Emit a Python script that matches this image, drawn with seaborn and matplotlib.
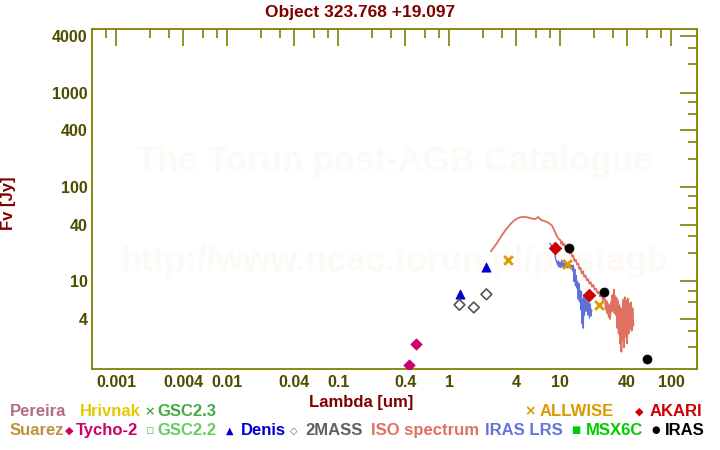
import numpy as np
import pandas as pd
import matplotlib
matplotlib.use("Agg")
import matplotlib.pyplot as plt
from matplotlib.ticker import FixedLocator, FixedFormatter, NullFormatter
import seaborn as sns

# ---------------- data ----------------
tycho_wl = [0.435, 0.505]
tycho_fl = [1.31, 2.19]

denis_wl = [1.25, 2.15]
denis_fl = [7.4, 14.4]

tmass_wl = [1.235, 1.662, 2.159]
tmass_fl = [5.65, 5.3, 7.3]

allwise_wl = [3.35, 11.56, 22.09]
allwise_fl = [17.0, 15.2, 5.65]

akari_wl = [9.0, 18.0]
akari_fl = [22.9, 7.2]

iras_wl = [12.0, 25.0, 60.0]
iras_fl = [22.9, 7.8, 1.5]

iso_wl = [2.37, 2.52, 2.67, 2.82, 2.97, 3.13, 3.29, 3.52, 3.77, 3.97, 4.18, 4.40,
          4.64, 4.98, 5.33, 5.62, 5.92, 6.10, 6.33, 6.55, 6.80, 7.15, 7.54, 7.95,
          8.36, 8.66, 8.96, 9.27, 9.59,
          10.0, 10.2, 10.4, 10.6, 10.9, 11.1, 11.4, 11.6, 11.9, 12.2, 12.5, 12.8,
          13.1, 13.4, 13.8, 14.1, 14.5, 14.8, 15.2, 15.6, 16.0, 16.4, 16.9, 17.3,
          17.8, 18.3, 18.8, 19.3, 19.8, 20.4, 21.0, 21.6, 22.2, 22.8, 23.5, 24.2,
          24.8,
          25.3, 25.7, 26.1, 26.5, 26.9, 27.3, 27.7, 28.1, 28.6, 29.0, 29.5, 29.9,
          30.4, 30.8, 31.3, 31.8, 32.2, 32.7, 33.1, 33.6, 34.0, 34.5, 35.0, 35.5,
          36.0, 36.5, 37.0, 37.6, 38.1, 38.7, 39.3, 39.9, 40.5, 41.2, 41.8, 42.5,
          43.2, 43.9, 44.7, 45.5]
iso_fl = [20.9, 23.0, 25.2, 28.0, 30.8, 33.6, 36.4, 40.0, 43.5, 45.5, 47.1, 48.0,
          48.3, 48.0, 47.1, 46.3, 45.7, 46.8, 48.3, 46.0, 44.6, 43.8, 42.8, 41.2,
          39.5, 36.5, 33.4, 30.8, 28.5,
          27.5, 25.0, 26.5, 24.0, 25.0, 22.5, 23.5, 21.0, 22.0, 19.8, 20.5, 18.3,
          18.8, 16.5, 17.0, 15.2, 15.5, 13.6, 14.0, 12.2, 12.8, 11.2, 11.6, 10.3,
          10.6, 9.5, 9.8, 8.8, 9.2, 8.2, 8.4, 7.5, 7.8, 6.9, 7.3, 6.3,
          6.8,
          6.5, 5.0, 6.2, 4.6, 5.8, 4.2, 5.6, 4.0, 6.0, 4.8, 7.2, 5.0,
          8.2, 4.6, 7.0, 4.4, 6.6, 3.2, 6.2, 2.8, 5.6, 2.2, 5.2, 1.8,
          4.8, 2.4, 6.4, 2.0, 6.8, 2.6, 6.2, 2.2, 6.6, 2.8, 5.8, 3.2,
          6.0, 3.0, 5.2, 3.4]

lrs_wl = [8.07, 8.3, 8.7, 8.95, 9.1, 9.28, 9.45, 9.6, 9.75, 9.9, 10.1, 10.3, 10.5,
          10.7, 10.9, 11.1, 11.3, 11.5, 11.7, 11.9, 12.1, 12.3, 12.5, 12.7, 12.9,
          13.1, 13.3, 13.5, 13.7, 13.9, 14.1, 14.3, 14.5, 14.7, 14.9, 15.1, 15.3,
          15.5, 15.7, 15.9, 16.1, 16.3, 16.5, 16.8, 17.1, 17.4, 17.7, 18.0, 18.3,
          18.6, 18.9, 19.2]
lrs_fl = [25.4, 24.0, 21.0, 19.8, 17.0, 16.2, 15.0, 16.5, 14.2, 16.0, 14.0, 16.8, 14.3,
          15.8, 13.8, 16.5, 14.0, 15.5, 13.9, 16.0, 14.2, 15.0, 13.8, 14.8, 13.0,
          14.9, 10.0, 13.5, 9.0, 11.6, 8.5, 10.0, 6.5, 9.5, 6.1, 8.0, 5.0,
          7.8, 3.6, 6.5, 3.2, 7.2, 4.4, 7.0, 4.8, 6.8, 4.4, 6.1, 4.1,
          5.8, 4.3, 5.0]

x_major = [0.001, 0.004, 0.01, 0.04, 0.1, 0.4, 1, 4, 10, 40, 100]
x_major_labels = ["0.001", "0.004", "0.01", "0.04", "0.1", "0.4", "1", "4", "10", "40", "100"]
y_major = [4, 10, 40, 100, 400, 1000, 4000]
y_major_labels = ["4", "10", "40", "100", "400", "1000", "4000"]

# ---------------- style ----------------
sns.set_theme(style="white")
plt.rcParams["font.family"] = ["Liberation Sans", "DejaVu Sans"]
plt.rcParams["font.weight"] = "bold"

OLIVE = "#808000"
TICKTXT = "#4d4d00"
MAROON = "#800000"

fig = plt.figure(figsize=(7.2, 4.5), dpi=100)
fig.patch.set_facecolor("white")
ax = fig.add_axes([92 / 720, 1 - 369 / 450, (697 - 92) / 720, (369 - 29) / 450])
ax.set_facecolor("white")
ax.set_xscale("log")
ax.set_yscale("log")
ax.set_xlim(6.04e-4, 170.4)
ax.set_ylim(1.18, 4745)

# watermark
ax.text(0.5, 1 - (162 - 29) / 340, "The Torun post-AGB Catalogue", transform=ax.transAxes,
        ha="center", va="center", fontsize=25, fontweight="bold", color="#fdfaf6", zorder=0)
ax.text(0.5, 1 - (262 - 29) / 340, "http://www.ncac.torun.pl/postagb", transform=ax.transAxes,
        ha="center", va="center", fontsize=25, fontweight="bold", color="#fdfaf6", zorder=0)

iso_df = pd.DataFrame({"wl": iso_wl, "fl": iso_fl})
lrs_df = pd.DataFrame({"wl": lrs_wl, "fl": lrs_fl})
sns.lineplot(data=iso_df, x="wl", y="fl", sort=False, estimator=None, color="#e07060",
             lw=1.3, ax=ax, zorder=2)
sns.lineplot(data=lrs_df, x="wl", y="fl", sort=False, estimator=None, color="#6070d8",
             lw=1.0, ax=ax, zorder=3)

sns.scatterplot(x=tycho_wl, y=tycho_fl, marker="D", s=34, color="#cc0066", edgecolor="#cc0066", ax=ax, zorder=4)
sns.scatterplot(x=denis_wl, y=denis_fl, marker="^", s=44, color="#0000cc", edgecolor="#0000cc", ax=ax, zorder=4)
sns.scatterplot(x=tmass_wl, y=tmass_fl, marker="D", s=30, facecolor="none", edgecolor="#555555", linewidth=1.2, ax=ax, zorder=4)
sns.scatterplot(x=allwise_wl, y=allwise_fl, marker="x", s=40, color="#dd9900", linewidth=2, ax=ax, zorder=5)
sns.scatterplot(x=akari_wl, y=akari_fl, marker="D", s=42, color="#cc0000", edgecolor="#cc0000", ax=ax, zorder=5)
sns.scatterplot(x=iras_wl, y=iras_fl, marker="o", s=42, color="black", edgecolor="black", ax=ax, zorder=6)

# ticks
x_minor = [m * 10.0 ** e for e in range(-4, 3) for m in (2, 3, 6, 8)]
y_minor = [m * 10.0 ** e for e in range(0, 4) for m in (2, 3, 6, 8)]
ax.xaxis.set_major_locator(FixedLocator(x_major))
ax.xaxis.set_major_formatter(FixedFormatter(x_major_labels))
ax.xaxis.set_minor_locator(FixedLocator(x_minor))
ax.xaxis.set_minor_formatter(NullFormatter())
ax.yaxis.set_major_locator(FixedLocator(y_major))
ax.yaxis.set_major_formatter(FixedFormatter(y_major_labels))
ax.yaxis.set_minor_locator(FixedLocator(y_minor))
ax.yaxis.set_minor_formatter(NullFormatter())
ax.tick_params(which="both", direction="in", top=True, right=True, color=OLIVE, width=1.2)
ax.tick_params(which="major", length=12.2)
ax.tick_params(which="minor", length=6.3)
ax.tick_params(axis="x", which="major", pad=4, labelsize=11.5, labelcolor=TICKTXT)
ax.tick_params(axis="y", which="major", pad=3, labelsize=11.5, labelcolor=TICKTXT)
for lab in ax.get_xticklabels() + ax.get_yticklabels():
    lab.set_fontweight("bold")
for sp in ax.spines.values():
    sp.set_color(OLIVE)
    sp.set_linewidth(1.3)
ax.set_xlabel("")
ax.set_ylabel("")

# titles / labels
fig.text(360 / 720, 1 - 12 / 450, "Object 323.768 +19.097", ha="center", va="center",
         fontsize=12.5, fontweight="bold", color=MAROON)
fig.text(361 / 720, 1 - 402 / 450, "Lambda [um]", ha="center", va="center",
         fontsize=12, fontweight="bold", color=MAROON)
fig.text(9 / 720, 1 - 203 / 450, "Fv [Jy]", ha="center", va="center", rotation=90,
         fontsize=12, fontweight="bold", color=MAROON)

# legend rows
def leg(x, y, label, color, sym=None, symx=None, symsize=8):
    fy = 1 - y / 450
    if sym is not None:
        fig.text(symx / 720, fy, sym, ha="center", va="center", fontsize=symsize,
                 color=color, family="DejaVu Sans", fontweight="bold")
    fig.text(x / 720, fy, label, ha="left", va="center", fontsize=12,
             fontweight="bold", color=color)

r1, r2 = 411.5, 430.5
leg(10, r1, "Pereira", "#b07080")
leg(80, r1, "Hrivnak", "#e6c800")
leg(157, r1, "GSC2.3", "#44aa44", "×", 150, 9)
leg(540, r1, "ALLWISE", "#dd9900", "×", 530, 10)
leg(650, r1, "AKARI", "#cc0000", "◆", 639, 8)

leg(10, r2, "Suarez", "#c09040")
leg(76, r2, "Tycho-2", "#cc0066", "◆", 69, 8)
leg(157, r2, "GSC2.2", "#66cc66", "▫", 150.5, 9)
leg(241, r2, "Denis", "#0000cc", "▲", 230, 7)
leg(305, r2, "2MASS", "#606060", "◇", 294, 7)
leg(371, r2, "ISO spectrum", "#e07060")
leg(485, r2, "IRAS LRS", "#6474d8")
leg(586, r2, "MSX6C", "#00cc00", "■", 576, 7)
leg(665, r2, "IRAS", "#000000", "●", 656, 7)

fig.savefig("out.png", dpi=100, facecolor="white")
